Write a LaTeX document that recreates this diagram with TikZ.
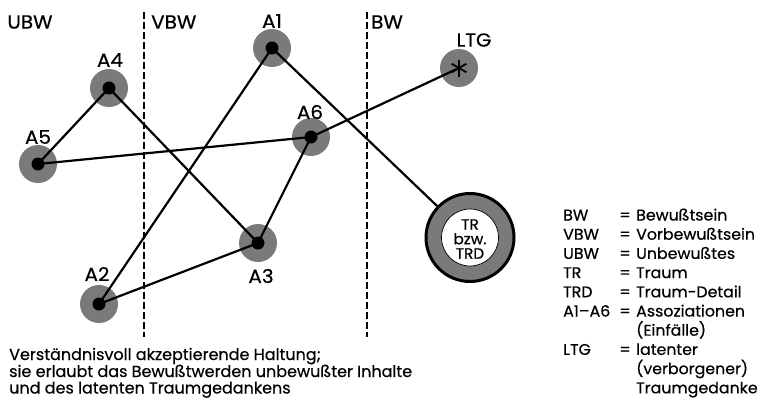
\documentclass[tikz,border=0pt]{standalone}
\usepackage{fontspec}
\setmainfont{Poppins}
\newfontfamily\legfont{Poppins}[Ligatures=TeX,FakeStretch=1.02,FakeBold=0.5]
\newfontfamily\lblfont{Poppins}[Ligatures=TeX,FakeStretch=1.05,FakeBold=0.5]
\newfontfamily\capfont{Poppins}[Ligatures=TeX,FakeBold=0.5]
\usetikzlibrary{calc}
\begin{document}
\begin{tikzpicture}[x=1pt,y=-1pt]
\tikzset{
  assoc/.style={circle, fill=black!52, minimum size=38pt, inner sep=0pt},
  lbl/.style={font=\lblfont\fontsize{19}{22}\selectfont, inner sep=0pt},
  link/.style={line width=2.2pt},
  zone/.style={line width=1.1pt, dash pattern=on 7pt off 3pt},
  legtxt/.style={font=\legfont\fontsize{15.5}{19}\selectfont, inner sep=0pt, anchor=base west},
  captxt/.style={font=\capfont\fontsize{16}{17}\selectfont, inner sep=0pt, anchor=base west},
}
\useasboundingbox (0,0) rectangle (763,400);
% zone borders
\coordinate (d1t) at (144,12); \coordinate (d1b) at (144,337);
\coordinate (d2t) at (367,12); \coordinate (d2b) at (367,337);
\draw[zone] (d1t) -- (d1b);
\draw[zone] (d2t) -- (d2b);
\node[lbl] (ubw) at (30,22) {UBW};
\node[lbl, anchor=west] (vbw) at (151,22) {VBW};
\node[lbl, anchor=west] (bw) at (371,22) {BW};
% association nodes
\node[assoc] (A1) at (272,48) {};
\node[assoc] (A4) at (109,88) {};
\node[assoc] (A5) at (38,164) {};
\node[assoc] (A6) at (311,137) {};
\node[assoc] (A3) at (258,243) {};
\node[assoc] (A2) at (99,304) {};
\node[assoc] (LTG) at (459,68) {};
\node[circle, draw, line width=3pt, fill=black!52, minimum size=88pt, inner sep=0pt] (TR) at (470,237.5) {};
\node[circle, draw, line width=0.7pt, fill=white, minimum size=57pt, inner sep=0pt] (TRin) at (TR.center) {};
\node[align=center, inner sep=0pt, font=\legfont\fontsize{15}{14.5}\selectfont] (TRtxt) at ($(TR.center)+(0,1.5)$) {TR\\bzw.\\TRD};
% labels
\node[lbl] (lA1) at (272,21) {A1};
\node[lbl] (lA4) at (110,60) {A4};
\node[lbl] (lA5) at (38,137) {A5};
\node[lbl] (lA6) at (310,112) {A6};
\node[lbl] (lA2) at (97,274) {A2};
\node[lbl] (lA3) at (261,276) {A3};
\node[lbl] (lLTG) at (474,40) {LTG};
% connectors
\draw[link] (A5.center) -- (A4.center);
\draw[link] (A4.center) -- (A3.center);
\draw[link] (A5.center) -- (A6.center);
\draw[link] (A6.center) -- (LTG.center);
\draw[link] (A6.center) -- (A3.center);
\draw[link] (A3.center) -- (A2.center);
\draw[link] (A2.center) -- (A1.center);
\draw[link] (A1.center) -- (TR);
% dots on top
\foreach \n in {A1,A2,A3,A4,A5,A6}{\fill (\n.center) circle (6.5pt);}
\foreach \a in {90,30,150}{\draw[line width=1.8pt] ($(LTG.center)+(\a:8.5pt)$) -- ($(LTG.center)+(\a+180:8.5pt)$);}
% legend
\foreach \k/\ab in {0/BW,1/VBW,2/UBW,3/TR,4/TRD,5/A1--A6,7/LTG}{
  \node[legtxt] (ab\k) at (563,220.5+19.2*\k) {\ab};
  \node[legtxt] (eq\k) at (619,220.5+19.2*\k) {=};
}
\foreach \k/\tx in {0/Bewußtsein,1/Vorbewußtsein,2/Unbewußtes,3/Traum,4/Traum-Detail,5/Assoziationen,6/(Einfälle),7/latenter,8/(verborgener),9/Traumgedanke}{
  \node[legtxt] (tx\k) at (636,220.5+19.2*\k) {\tx};
}
% caption
\node[captxt] (c1) at (9,360) {Verständnisvoll akzeptierende Haltung;};
\node[captxt] (c2) at (9,377) {sie erlaubt das Bewußtwerden unbewußter Inhalte};
\node[captxt] (c3) at (9,393.5) {und des latenten Traumgedankens};
\end{tikzpicture}
\end{document}
